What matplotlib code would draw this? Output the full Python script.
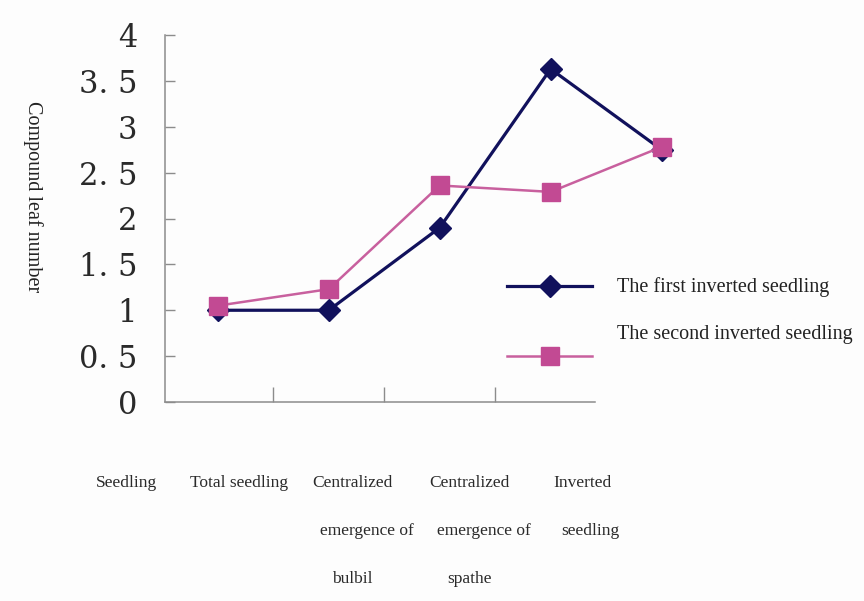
import matplotlib
matplotlib.use("Agg")
import matplotlib.pyplot as plt
from matplotlib.lines import Line2D

# Data
stages = ["Seedling", "Total seedling", "Centralized\nemergence of\nbulbil",
          "Centralized\nemergence of\nspathe", "Inverted\nseedling"]
first_inverted = [1.0, 1.0, 1.9, 3.63, 2.75]
second_inverted = [1.05, 1.23, 2.36, 2.29, 2.78]
series_names = ["The first inverted seedling", "The second inverted seedling"]
y_ticks = [0, 0.5, 1, 1.5, 2, 2.5, 3, 3.5, 4]
y_tick_labels = ["0", "0. 5", "1", "1. 5", "2", "2. 5", "3", "3. 5", "4"]
y_title = "Compound leaf number"

W, H = 864, 601
navy = "#11115c"
pink = "#c24a93"
pink_line = "#c8609e"
axis_grey = "#8c8c8c"
serif = "Liberation Serif"

fig = plt.figure(figsize=(W / 100, H / 100), dpi=100, facecolor="#fdfdfd")
ax = fig.add_axes([165 / W, (H - 402) / H, (595 - 165) / W, (402 - 35) / H])
ax.set_facecolor("#fdfdfd")

x = list(range(len(first_inverted)))
ax.plot(x, first_inverted, color=navy, lw=2.3, marker="D", ms=11,
        mfc=navy, mec=navy, clip_on=False, zorder=3)
ax.plot(x, second_inverted, color=pink_line, lw=1.8, marker="s", ms=12.5,
        mfc=pink, mec=pink, clip_on=False, zorder=4)

ax.set_xlim(-0.477, 3.40)
ax.set_ylim(0, 4)

for side in ("top", "right"):
    ax.spines[side].set_visible(False)
for side in ("left", "bottom"):
    ax.spines[side].set_color(axis_grey)
    ax.spines[side].set_linewidth(1.1)

ax.set_yticks(y_ticks)
ax.set_yticklabels(y_tick_labels, family="DejaVu Serif", fontsize=22, color="#2a2a2a")
ax.tick_params(axis="y", direction="in", length=7, width=1.0, color=axis_grey, pad=20)
ax.set_xticks([0.5, 1.5, 2.5])
ax.set_xticklabels([])
ax.tick_params(axis="x", direction="in", length=11, width=1.0, color=axis_grey)

# Vertical axis title
fig.text(33 / W, 1 - 197 / H, y_title, rotation=-90, ha="center", va="center",
         family=serif, fontsize=14.5, color="#222222")

# Stage names under the axis, one text per line
label_centers = [126, 239, 352, 469, 582]
row_y = [483, 531, 579]
for cx, name in zip(label_centers, stages):
    for k, line in enumerate(name.split("\n")):
        dx = 0
        if line.startswith("emergence"):
            dx = 15
        elif line == "seedling" and k == 1:
            dx = 8
        fig.text((cx + dx) / W, 1 - row_y[k] / H, line, ha="center", va="center",
                 family=serif, fontsize=12.5, color="#2a2a2a")

# Legend drawn by hand
def legend_entry(y_line, y_text, color, lcolor, lw, marker, ms, label):
    fig.add_artist(Line2D([507 / W, 592 / W], [1 - y_line / H, 1 - y_line / H],
                          color=lcolor, lw=lw, transform=fig.transFigure))
    fig.add_artist(Line2D([550 / W], [1 - y_line / H], marker=marker, ms=ms,
                          mfc=color, mec=color, lw=0, transform=fig.transFigure))
    fig.text(617 / W, 1 - y_text / H, label, ha="left", va="center",
             family=serif, fontsize=14.5, color="#222222")

legend_entry(286, 287, navy, navy, 2.3, "D", 11, series_names[0])
legend_entry(356, 335, pink, pink_line, 1.8, "s", 12.5, series_names[1])

fig.savefig("out.png", dpi=100, facecolor=fig.get_facecolor())
